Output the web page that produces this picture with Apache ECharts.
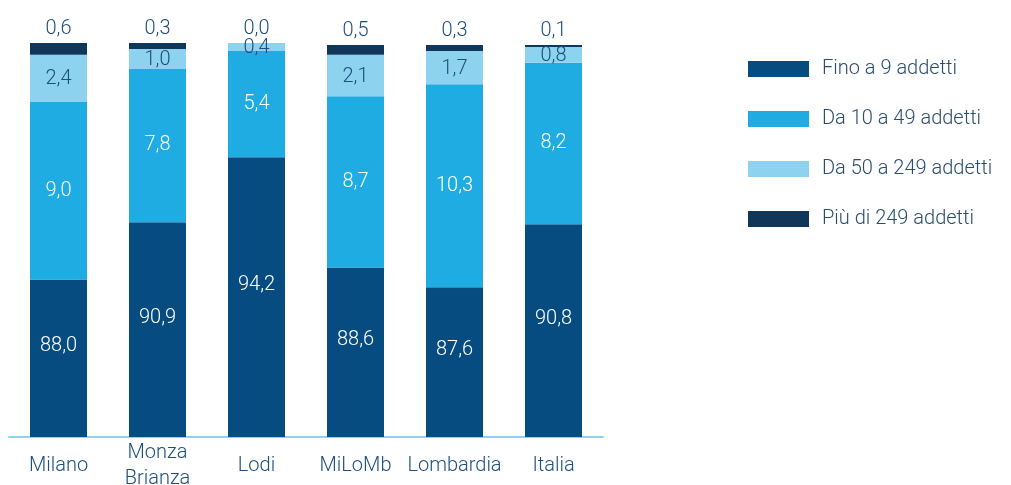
<!DOCTYPE html>
<html>
<head>
<meta charset="utf-8">
<script src="https://cdn.jsdelivr.net/npm/echarts@6/dist/echarts.min.js"></script>
<style>
  html, body { margin: 0; padding: 0; background: #ffffff; }
  #chart { width: 1011px; height: 485px; }
</style>
</head>
<body>
<div id="chart"></div>
<script>
// Imprese per classe di addetti (%)
const categories = ['Milano', 'Monza\nBrianza', 'Lodi', 'MiLoMb', 'Lombardia', 'Italia'];
const fino9      = [88.0, 90.9, 94.2, 88.6, 87.6, 90.8];
const da10a49    = [9.0, 7.8, 5.4, 8.7, 10.3, 8.2];
const da50a249   = [2.4, 1.0, 0.4, 2.1, 1.7, 0.8];
const oltre249   = [0.6, 0.3, 0.0, 0.5, 0.3, 0.1];
const seriesNames = ['Fino a 9 addetti', 'Da 10 a 49 addetti', 'Da 50 a 249 addetti', 'Più di 249 addetti'];

const textBlue = '#1d4f7c';
const fontFamily = 'Roboto, "Open Sans", sans-serif';
const fontWeight = 300;
const fmt = p => p.value.toFixed(1).replace('.', ',');

function barSeries(name, data, color, label) {
  return {
    name: name,
    type: 'bar',
    stack: 'tot',
    data: data,
    barWidth: 57,
    itemStyle: { color: color },
    label: Object.assign({
      show: true,
      formatter: fmt,
      fontFamily: fontFamily,
      fontWeight: fontWeight,
      fontSize: 20
    }, label)
  };
}

const chart = echarts.init(document.getElementById('chart'), null, { renderer: 'canvas' });
chart.setOption({
  animation: false,
  backgroundColor: '#ffffff',
  grid: { left: 9, right: 408, top: 43, bottom: 48, outerBoundsMode: 'none', containLabel: false },
  legend: {
    orient: 'vertical',
    left: 748,
    top: 59,
    padding: 0,
    icon: 'rect',
    itemWidth: 61,
    itemHeight: 16,
    itemGap: 30,
    selectedMode: false,
    textStyle: {
      color: '#2b4d6d',
      fontFamily: fontFamily,
      fontWeight: fontWeight,
      fontSize: 20,
      lineHeight: 20,
      padding: [0, 0, 0, 8]
    },
    data: seriesNames
  },
  xAxis: {
    type: 'category',
    data: categories,
    axisTick: { show: false },
    axisLine: { lineStyle: { color: '#8dd2ef', width: 2 } },
    axisLabel: {
      color: textBlue,
      fontFamily: fontFamily,
      fontWeight: fontWeight,
      fontSize: 20,
      lineHeight: 26,
      margin: 29,
      verticalAlign: 'middle',
      interval: 0
    }
  },
  yAxis: {
    type: 'value',
    min: 80,
    max: 100,
    show: false
  },
  series: [
    barSeries(seriesNames[0], fino9, '#074c80', { position: 'inside', color: '#ffffff', offset: [0, -12] }),
    barSeries(seriesNames[1], da10a49, '#1eace2', { position: 'inside', color: '#ffffff' }),
    barSeries(seriesNames[2], da50a249, '#8dd2ef', { position: 'inside', color: textBlue, offset: [0, 1] }),
    barSeries(seriesNames[3], oltre249, '#10375a', { position: 'top', color: textBlue, distance: 4 })
  ]
});
</script>
</body>
</html>
